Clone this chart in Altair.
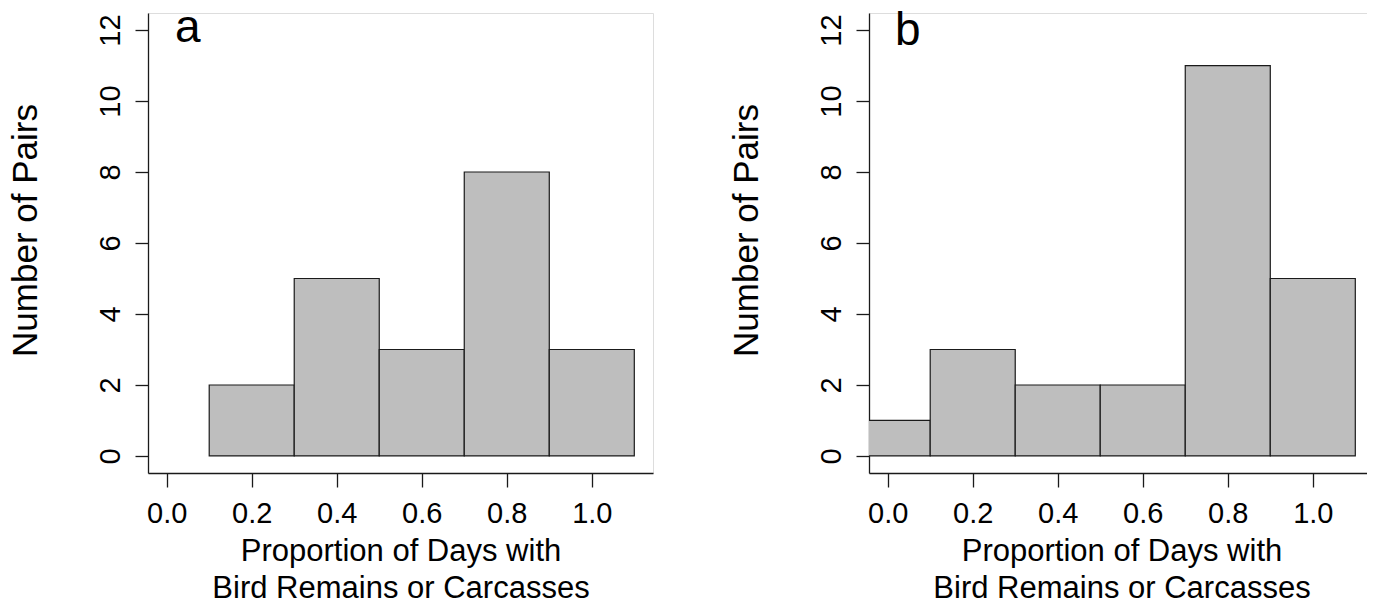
import altair as alt
import pandas as pd

# ---- data ----
a_start = [0.1, 0.3, 0.5, 0.7, 0.9]
a_end = [0.3, 0.5, 0.7, 0.9, 1.1]
a_count = [2, 5, 3, 8, 3]

b_start = [-0.1, 0.1, 0.3, 0.5, 0.7, 0.9]
b_end = [0.1, 0.3, 0.5, 0.7, 0.9, 1.1]
b_count = [1, 3, 2, 2, 11, 5]

x_ticks = [0.0, 0.2, 0.4, 0.6, 0.8, 1.0]
y_ticks = [0, 2, 4, 6, 8, 10, 12]
x_domain = [-0.044, 1.144]
y_domain = [-0.48, 12.48]

x_title = ["Proportion of Days with", "Bird Remains or Carcasses"]
y_title = "Number of Pairs"

FONT = "Liberation Sans"
INK = "#1a1a1a"
W, H = 505, 460
PAD_L, PAD_T = 140, 5
SVG_W, SVG_H = 1359, 589


def panel(start, end, count, letter, lx, ly):
    df = pd.DataFrame({"start": start, "end": end, "count": count})
    x_axis = alt.Axis(
        values=x_ticks, format=".1f", title=x_title, grid=False,
        tickSize=14, tickWidth=1.3, tickColor=INK,
        domainColor=INK, domainWidth=1.3,
        labelPadding=12, labelFontSize=29, labelFont=FONT, labelColor="black",
        labelFlush=False, labelOverlap=False,
        titleFontSize=31, titleFont=FONT, titleFontWeight="normal", titleColor="black",
        titleLineHeight=37, titleBaseline="alphabetic", titleAlign="center",
        titleX=W / 2, titleY=87,
    )
    y_axis = alt.Axis(
        values=y_ticks, title=y_title, grid=False,
        tickSize=13, tickWidth=1.3, tickColor=INK,
        domainColor=INK, domainWidth=1.3,
        labelAngle=270, labelAlign="center", labelBaseline="alphabetic",
        labelPadding=16, labelFontSize=29, labelFont=FONT, labelColor="black",
        labelFlush=False, labelOverlap=False,
        titleFontSize=35, titleFont=FONT, titleFontWeight="normal", titleColor="black",
        titleAngle=270, titleAlign="center", titleBaseline="alphabetic",
        titleX=-112, titleY=217,
    )
    bars = alt.Chart(df).mark_rect(
        fill="#bebebe", stroke=INK, strokeWidth=1.2, clip=True
    ).encode(
        x=alt.X("start:Q", scale=alt.Scale(domain=x_domain, nice=False, zero=False), axis=x_axis),
        x2="end:Q",
        y=alt.Y("count:Q", scale=alt.Scale(domain=y_domain, nice=False, zero=False), axis=y_axis),
        y2=alt.datum(0),
    )
    lab = alt.Chart(pd.DataFrame({"t": [letter]})).mark_text(
        font=FONT, fontSize=46, align="left", baseline="alphabetic", color="black"
    ).encode(x=alt.value(lx), y=alt.value(ly), text="t:N")
    return alt.layer(bars, lab).properties(width=W, height=H)


pa = panel(a_start, a_end, a_count, "a", 27, 29)
pb = panel(b_start, b_end, b_count, "b", 26, 32)

chart = alt.hconcat(pa, pb, spacing=216, bounds="flush").properties(
    autosize=alt.AutoSizeParams(type="none"),
    padding={"left": PAD_L, "top": PAD_T, "right": SVG_W - PAD_L, "bottom": SVG_H - PAD_T},
).configure_view(stroke=None).configure(background="white")

chart.save("out.html", embed_options={"renderer": "svg", "actions": False})
